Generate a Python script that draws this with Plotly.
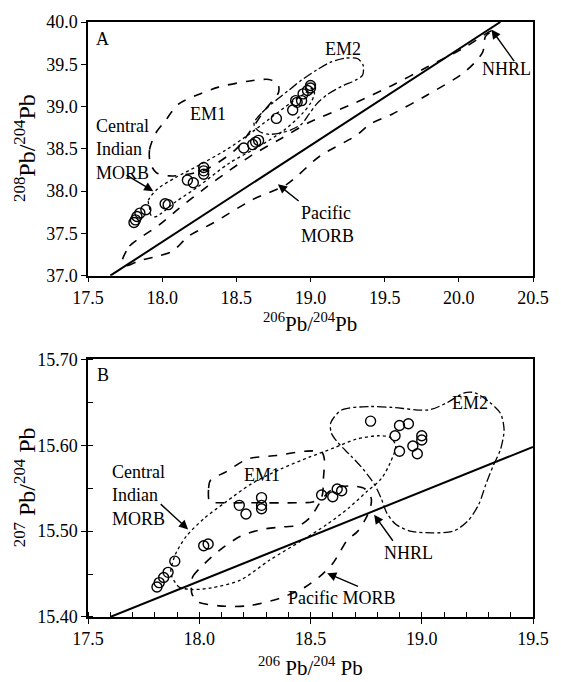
import plotly.graph_objects as go

# ---------------- data: panel A (208Pb/204Pb vs 206Pb/204Pb) ----------------
a_x = [17.81, 17.82, 17.83, 17.85, 17.89, 18.02, 18.04, 18.17, 18.21, 18.28, 18.28, 18.28,
       18.55, 18.61, 18.63, 18.65, 18.77, 18.88, 18.90, 18.91, 18.94, 18.95, 18.98, 19.00, 19.00]
a_y = [37.63, 37.66, 37.70, 37.74, 37.78, 37.85, 37.84, 38.13, 38.10, 38.20, 38.24, 38.28,
       38.51, 38.55, 38.58, 38.60, 38.86, 38.96, 39.07, 39.05, 39.07, 39.15, 39.19, 39.22, 39.25]

a_nhrl_x = [17.65, 20.28]
a_nhrl_y = [37.0, 40.0]

a_pac_x = [17.73, 17.78, 17.87, 17.98, 18.11, 18.30, 18.45, 18.60, 18.80, 19.00, 19.31, 19.55, 19.79, 20.04, 20.20, 20.24,
           20.18, 20.16, 20.04, 19.79, 19.55, 19.40, 19.31, 19.06, 18.84, 18.61, 18.34, 18.18, 18.07, 17.97, 17.85, 17.76, 17.73]
a_pac_y = [37.16, 37.35, 37.47, 37.60, 37.79, 38.05, 38.24, 38.42, 38.62, 38.82, 39.05, 39.25, 39.47, 39.70, 39.88, 39.91,
           39.83, 39.64, 39.41, 39.14, 38.91, 38.79, 38.66, 38.41, 38.08, 37.90, 37.62, 37.47, 37.29, 37.23, 37.18, 37.12, 37.16]

a_cim_x = [17.914, 17.907, 17.968, 18.089, 18.235, 18.430, 18.576, 18.722, 18.868, 18.966, 19.014, 19.027, 19.002,
           18.941, 18.820, 18.649, 18.454, 18.235, 18.089, 17.955, 17.924, 17.914]
a_cim_y = [37.813, 37.890, 38.025, 38.159, 38.294, 38.487, 38.660, 38.853, 39.045, 39.161, 39.218, 39.161, 39.045,
           38.910, 38.718, 38.525, 38.333, 38.044, 37.871, 37.697, 37.717, 37.813]

a_em1_x = [17.92, 17.915, 17.955, 18.02, 18.11, 18.24, 18.38, 18.58, 18.72, 18.78, 18.785, 18.74, 18.68, 18.63,
           18.50, 18.30, 18.17, 18.05, 17.96, 17.92]
a_em1_y = [38.33, 38.49, 38.68, 38.83, 39.03, 39.14, 39.23, 39.30, 39.32, 39.27, 39.17, 39.06, 38.93, 38.80,
           38.50, 38.26, 38.20, 38.18, 38.22, 38.33]

a_em2_x = [18.620, 18.674, 18.747, 18.844, 18.941, 19.039, 19.136, 19.234, 19.319, 19.355, 19.351, 19.307, 19.209,
           19.112, 19.039, 18.990, 18.941, 18.868, 18.795, 18.722, 18.661, 18.625, 18.620]
a_em2_y = [38.814, 38.930, 39.045, 39.180, 39.315, 39.430, 39.526, 39.573, 39.565, 39.488, 39.372, 39.315, 39.238,
           39.141, 39.026, 38.910, 38.795, 38.725, 38.687, 38.672, 38.699, 38.756, 38.814]

# ---------------- data: panel B (207Pb/204Pb vs 206Pb/204Pb) ----------------
b_x = [17.81, 17.82, 17.84, 17.86, 17.89, 18.02, 18.04, 18.18, 18.21, 18.28, 18.28, 18.28,
       18.55, 18.60, 18.62, 18.64, 18.77, 18.88, 18.90, 18.94, 18.90, 18.96, 18.98, 19.00, 19.00]
b_y = [15.435, 15.440, 15.446, 15.452, 15.465, 15.483, 15.485, 15.530, 15.520, 15.526, 15.530, 15.539,
       15.542, 15.540, 15.549, 15.547, 15.628, 15.611, 15.623, 15.625, 15.593, 15.599, 15.590, 15.606, 15.611]

b_nhrl_x = [17.60, 19.50]
b_nhrl_y = [15.400, 15.598]

b_pac_x = [17.966, 17.971, 18.023, 18.088, 18.185, 18.282, 18.380, 18.453, 18.502, 18.542, 18.583, 18.640, 18.705,
           18.745, 18.773, 18.769, 18.745, 18.713, 18.664, 18.631, 18.599, 18.550, 18.477, 18.364, 18.218, 18.088,
           17.990, 17.966, 17.966]
b_pac_y = [15.440, 15.447, 15.462, 15.477, 15.494, 15.502, 15.505, 15.507, 15.517, 15.533, 15.546, 15.552, 15.552,
           15.549, 15.538, 15.527, 15.513, 15.500, 15.489, 15.475, 15.462, 15.449, 15.435, 15.422, 15.413, 15.413,
           15.418, 15.428, 15.440]

b_cim_x = [17.877, 17.909, 17.966, 18.055, 18.185, 18.315, 18.461, 18.575, 18.672, 18.753, 18.818, 18.859, 18.883,
           18.859, 18.802, 18.705, 18.607, 18.494, 18.364, 18.234, 18.120, 18.023, 17.942, 17.893, 17.872, 17.877]
b_cim_y = [15.447, 15.435, 15.432, 15.434, 15.443, 15.466, 15.489, 15.508, 15.527, 15.546, 15.561, 15.580, 15.599,
           15.609, 15.611, 15.607, 15.597, 15.586, 15.572, 15.555, 15.534, 15.515, 15.494, 15.473, 15.454, 15.447]

b_em1_x = [18.047, 18.042, 18.050, 18.120, 18.218, 18.347, 18.477, 18.550, 18.562, 18.558, 18.550, 18.510, 18.445,
           18.218, 18.088, 18.047]
b_em1_y = [15.534, 15.550, 15.559, 15.569, 15.584, 15.588, 15.593, 15.592, 15.584, 15.561, 15.540, 15.534, 15.533,
           15.533, 15.533, 15.534]

b_em2_x = [18.591, 18.640, 18.769, 18.867, 19.029, 19.110, 19.192, 19.240, 19.305, 19.354, 19.370, 19.354, 19.321,
           19.289, 19.256, 19.208, 19.143, 19.045, 18.948, 18.883, 18.843, 18.818, 18.786, 18.737, 18.680, 18.623,
           18.594, 18.591]
b_em2_y = [15.626, 15.641, 15.645, 15.644, 15.641, 15.649, 15.661, 15.661, 15.650, 15.637, 15.618, 15.595, 15.576,
           15.555, 15.531, 15.512, 15.500, 15.498, 15.500, 15.508, 15.521, 15.538, 15.555, 15.572, 15.588, 15.603,
           15.614, 15.626]

FONT = "Times New Roman, Liberation Serif, serif"
BLK = "black"

fig = go.Figure()


def outline(x, y, dash, xa, ya, width=1.6):
    fig.add_trace(go.Scatter(x=x, y=y, mode="lines", xaxis=xa, yaxis=ya,
                             line=dict(color=BLK, width=width, dash=dash, shape="spline", smoothing=0.8),
                             hoverinfo="skip", showlegend=False))


# panel A
outline(a_pac_x, a_pac_y, "dash", "x", "y")
outline(a_cim_x, a_cim_y, "dot", "x", "y", 1.3)
outline(a_em1_x, a_em1_y, "dash", "x", "y")
outline(a_em2_x, a_em2_y, "dashdot", "x", "y", 1.3)
fig.add_trace(go.Scatter(x=a_nhrl_x, y=a_nhrl_y, mode="lines", xaxis="x", yaxis="y",
                         line=dict(color=BLK, width=2), showlegend=False))
fig.add_trace(go.Scatter(x=a_x, y=a_y, mode="markers", xaxis="x", yaxis="y",
                         marker=dict(symbol="circle-open", size=10, color=BLK, line=dict(width=1.4)),
                         showlegend=False))

# panel B
outline(b_pac_x, b_pac_y, "dash", "x2", "y2")
outline(b_cim_x, b_cim_y, "dot", "x2", "y2", 1.3)
outline(b_em1_x, b_em1_y, "dash", "x2", "y2")
outline(b_em2_x, b_em2_y, "dashdot", "x2", "y2", 1.3)
fig.add_trace(go.Scatter(x=b_nhrl_x, y=b_nhrl_y, mode="lines", xaxis="x2", yaxis="y2",
                         line=dict(color=BLK, width=2), showlegend=False))
fig.add_trace(go.Scatter(x=b_x, y=b_y, mode="markers", xaxis="x2", yaxis="y2",
                         marker=dict(symbol="circle-open", size=10, color=BLK, line=dict(width=1.4)),
                         showlegend=False))

tickfont = dict(family=FONT, size=18, color=BLK)
axcommon = dict(showgrid=False, zeroline=False, showline=True, linecolor=BLK, linewidth=1.5,
                mirror=True, ticks="outside", ticklen=5, tickwidth=1.2, tickcolor=BLK, tickfont=tickfont)

fig.update_layout(
    width=561, height=682,
    margin=dict(l=88, r=28, t=12, b=65),
    paper_bgcolor="white", plot_bgcolor="white",
    showlegend=False,
    xaxis=dict(domain=[0, 1], anchor="y", range=[17.5, 20.5], dtick=0.5, tick0=17.5,
               tickformat=".1f", **axcommon),
    yaxis=dict(domain=[0.5736, 1], anchor="x", range=[37.0, 40.0], dtick=0.5, tick0=37.0,
               tickformat=".1f", **axcommon),
    xaxis2=dict(domain=[0, 1], anchor="y2", range=[17.5, 19.5], dtick=0.5, tick0=17.5,
                tickformat=".1f", minor=dict(ticks="inside", dtick=0.1, ticklen=5, tickcolor=BLK),
                **axcommon),
    yaxis2=dict(domain=[0, 0.4331], anchor="x2", range=[15.40, 15.70], dtick=0.1, tick0=15.4,
                tickformat=".2f", minor=dict(ticks="inside", dtick=0.05, ticklen=5, tickcolor=BLK),
                **axcommon),
)


def text(x, y, s, xref, yref, xanchor="center", align="center", size=18):
    fig.add_annotation(x=x, y=y, xref=xref, yref=yref, text=s, showarrow=False,
                       xanchor=xanchor, yanchor="middle", align=align,
                       font=dict(family=FONT, size=size, color=BLK))


def arrow(x, y, ax, ay, xref, yref):
    fig.add_annotation(x=x, y=y, ax=ax, ay=ay, xref=xref, yref=yref, axref=xref, ayref=yref,
                       text="", showarrow=True, arrowhead=2, arrowsize=1.3, arrowwidth=1.4, arrowcolor=BLK)


# panel A labels
text(17.60, 39.80, "A", "x", "y")
text(18.31, 38.91, "EM1", "x", "y")
text(19.22, 39.68, "EM2", "x", "y")
text(17.54, 38.49, "Central<br>Indian<br>MORB", "x", "y", xanchor="left", align="left")
text(18.92, 37.61, "Pacific<br>MORB", "x", "y", xanchor="left", align="left")
text(20.32, 39.45, "NHRL", "x", "y")
arrow(17.94, 38.00, 17.75, 38.20, "x", "y")
arrow(18.78, 38.08, 18.93, 37.87, "x", "y")
arrow(20.22, 39.91, 20.38, 39.52, "x", "y")

# panel B labels
text(17.568, 15.682, "B", "x2", "y2")
text(18.28, 15.565, "EM1", "x2", "y2")
text(19.216, 15.649, "EM2", "x2", "y2")
text(17.60, 15.541, "Central<br>Indian<br>MORB", "x2", "y2", xanchor="left", align="left")
text(18.94, 15.475, "NHRL", "x2", "y2")
text(18.64, 15.422, "Pacific MORB", "x2", "y2")
arrow(17.95, 15.502, 17.82, 15.533, "x2", "y2")
arrow(18.786, 15.519, 18.875, 15.487, "x2", "y2")
arrow(18.575, 15.451, 18.72, 15.435, "x2", "y2")


def title(s, px, py, angle=0, size=21):
    fig.add_annotation(x=(px - 88) / (561 - 88 - 28), y=(682 - 65 - py) / (682 - 12 - 65), xref="paper",
                       yref="paper", text=s, showarrow=False, textangle=angle,
                       xanchor="center", yanchor="middle",
                       font=dict(family=FONT, size=size, color=BLK))


title("<sup>206</sup>Pb/<sup>204</sup>Pb", 310, 318)
title("<sup>206</sup> Pb/<sup>204</sup> Pb", 310, 667)
title("<sup>208</sup>Pb/<sup>204</sup>Pb", 25, 140, -90, 24)
title("<sup>207</sup> Pb/<sup>204</sup> Pb", 25, 485, -90, 24)

fig.write_html("out.html")
